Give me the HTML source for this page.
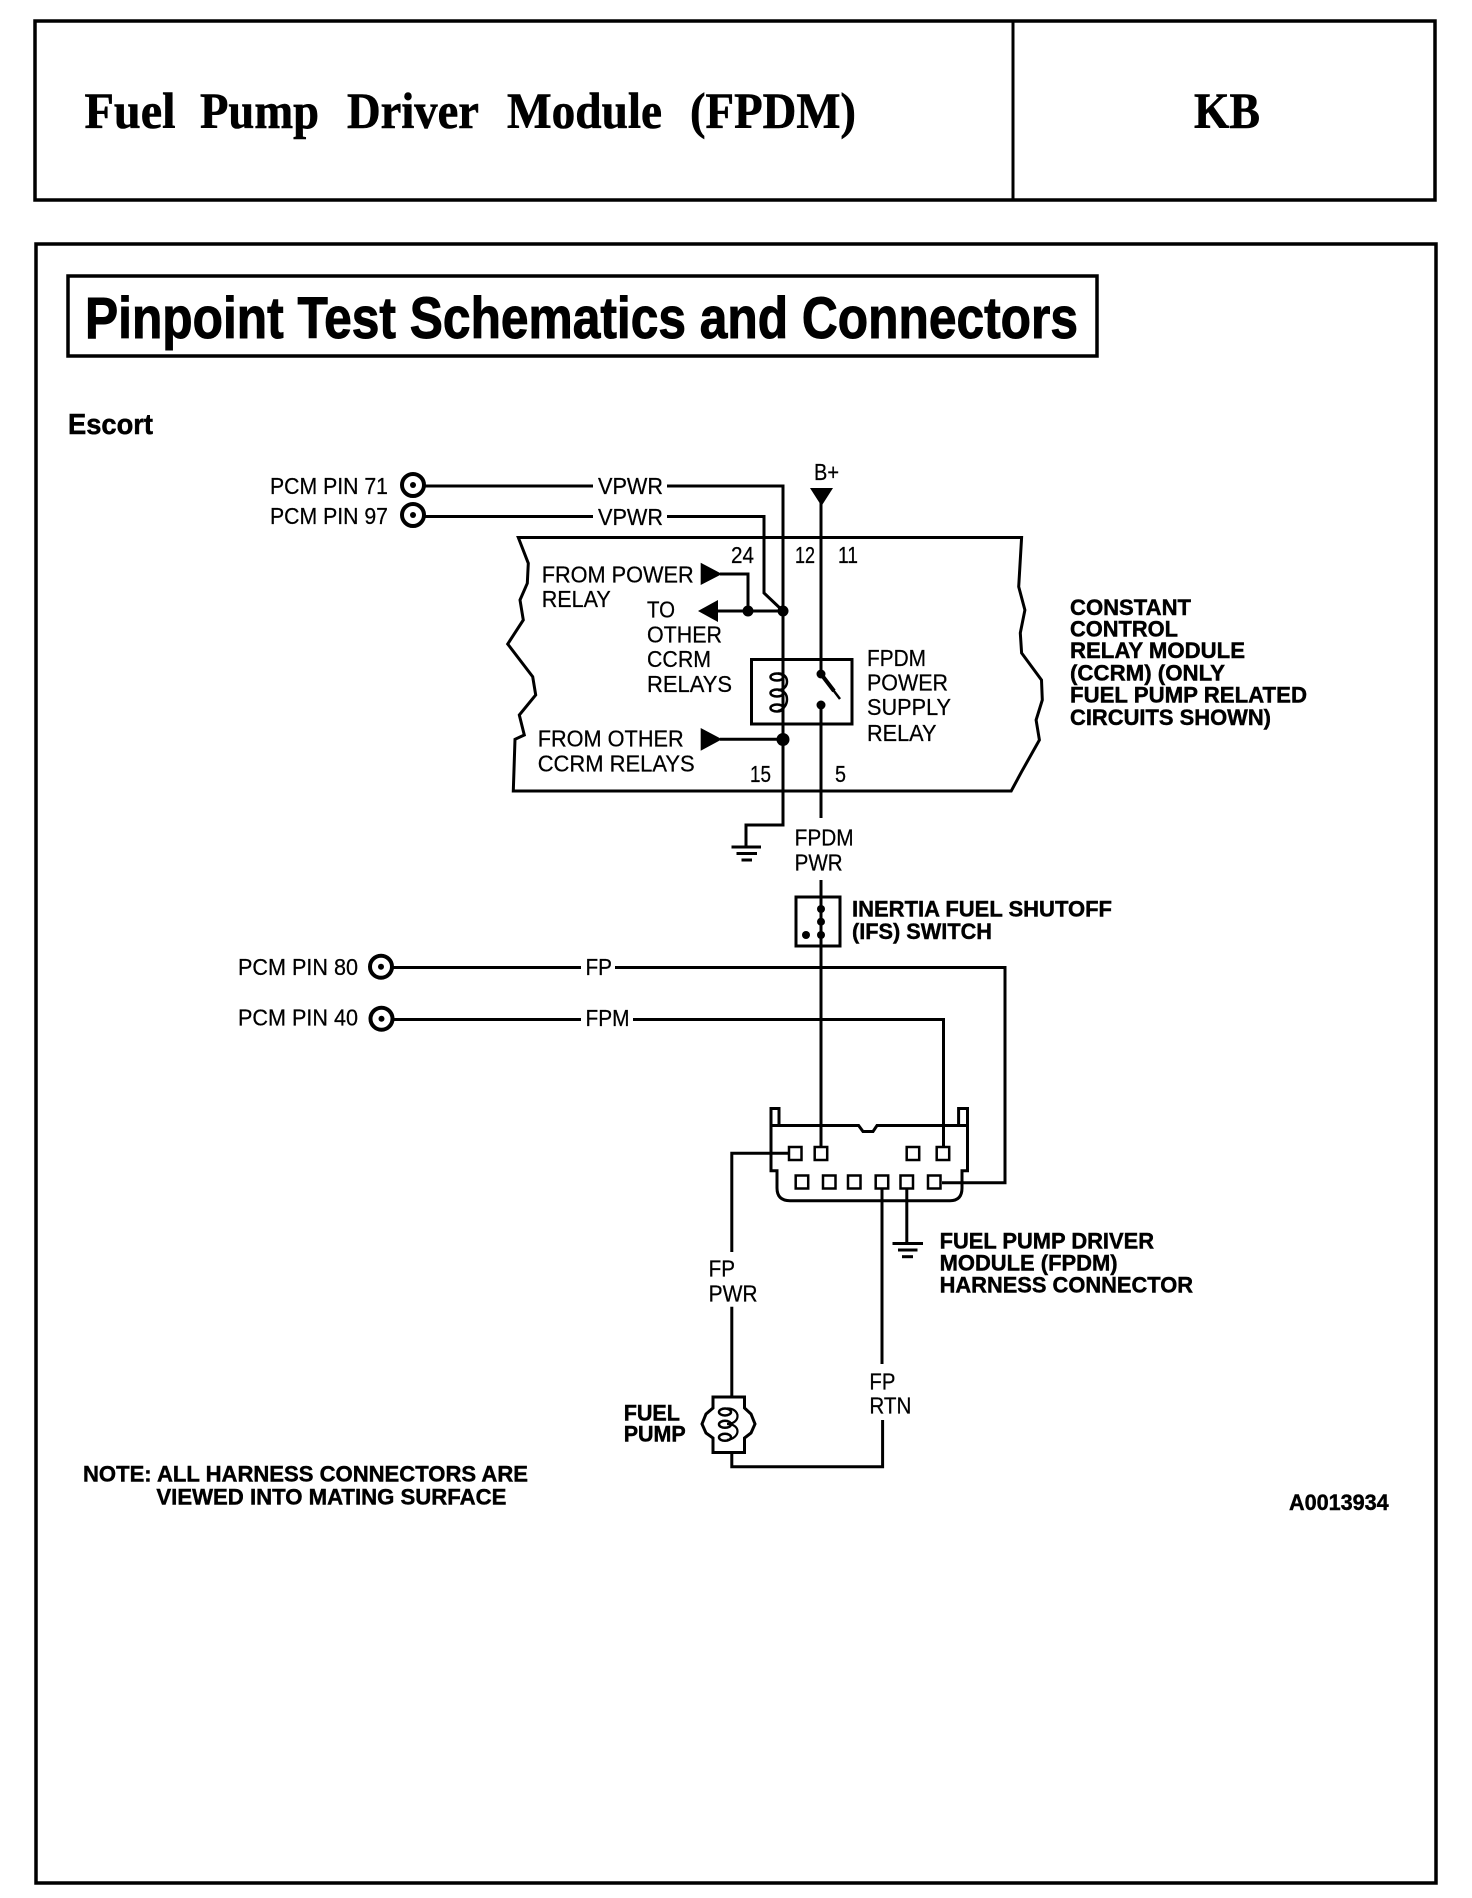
<!DOCTYPE html>
<html lang="en">
<head>
<meta charset="utf-8">
<title>Fuel Pump Driver Module (FPDM)</title>
<style>
html,body{margin:0;padding:0;background:#fff;width:1472px;height:1898px;overflow:hidden}
svg{display:block}
.r{font-family:"Liberation Sans",sans-serif;font-size:23px;fill:#000;stroke:#000;stroke-width:.25}
.b{font-family:"Liberation Sans",sans-serif;font-size:22.5px;font-weight:bold;fill:#000;stroke:#000;stroke-width:.45}
.s{font-family:"Liberation Serif",serif;font-size:51px;font-weight:bold;fill:#000;stroke:#000;stroke-width:.6}
.w{fill:none;stroke:#000;stroke-width:3}
.c{fill:none;stroke:#000;stroke-width:4}
</style>
</head>
<body>
<svg xmlns="http://www.w3.org/2000/svg" width="1472" height="1898" viewBox="0 0 1472 1898">
<rect width="1472" height="1898" fill="#fff"/>

<!-- header -->
<rect x="35" y="21" width="1400" height="179" fill="none" stroke="#000" stroke-width="3.5"/>
<line x1="1013" y1="21" x2="1013" y2="200" stroke="#000" stroke-width="3"/>
<text class="s" x="84.5" y="128" textLength="91" lengthAdjust="spacingAndGlyphs">Fuel</text>
<text class="s" x="200" y="128" textLength="119" lengthAdjust="spacingAndGlyphs">Pump</text>
<text class="s" x="347" y="128" textLength="132" lengthAdjust="spacingAndGlyphs">Driver</text>
<text class="s" x="507" y="128" textLength="155" lengthAdjust="spacingAndGlyphs">Module</text>
<text class="s" x="690" y="128" textLength="166" lengthAdjust="spacingAndGlyphs">(FPDM)</text>
<text class="s" x="1194" y="128" textLength="66" lengthAdjust="spacingAndGlyphs">KB</text>

<!-- main frame -->
<rect x="36" y="244" width="1400" height="1639" fill="none" stroke="#000" stroke-width="3.5"/>
<rect x="68" y="276" width="1029" height="80" fill="none" stroke="#000" stroke-width="3.5"/>
<text x="85" y="338" font-family="Liberation Sans, sans-serif" font-weight="bold" font-size="58" stroke="#000" stroke-width="1" textLength="993" lengthAdjust="spacingAndGlyphs">Pinpoint Test Schematics and Connectors</text>
<text x="68" y="434" font-family="Liberation Sans, sans-serif" font-weight="bold" font-size="29" stroke="#000" stroke-width=".5" textLength="85" lengthAdjust="spacingAndGlyphs">Escort</text>

<!-- CCRM module outline -->
<path class="w" d="M518.3 537.5 L528.3 563.3 L527.3 583.3 L520 600 L523.3 620 L507.7 644 L532.7 676.7 L535.7 695 L519.3 715 L524.3 735 L515 739.3 L513.3 791 L1011.2 791 L1021.6 771.7 L1039.4 740 L1036.1 720 L1042.3 700 L1041.5 680 L1021.6 653 L1020.3 633 L1024.9 610 L1018.7 586.7 L1021.6 537.5 Z"/>

<!-- PCM pins upper -->
<text class="r" x="270" y="494" textLength="118" lengthAdjust="spacingAndGlyphs">PCM PIN 71</text>
<text class="r" x="270" y="524" textLength="118" lengthAdjust="spacingAndGlyphs">PCM PIN 97</text>
<circle cx="413" cy="485" r="11" class="c"/>
<circle cx="413" cy="485" r="3"/>
<circle cx="413" cy="515" r="11" class="c"/>
<circle cx="413" cy="515" r="3"/>
<text class="r" x="598" y="494" textLength="65" lengthAdjust="spacingAndGlyphs">VPWR</text>
<text class="r" x="598" y="525" textLength="65" lengthAdjust="spacingAndGlyphs">VPWR</text>
<path class="w" d="M424 486 H593 M667 486 H783 V825 H746 V847"/>
<path class="w" d="M424 516.5 H593 M667 516.5 H764 V593 L783 611"/>
<!-- grounds -->
<path class="w" d="M731.5 847 H761"/>
<path class="w" d="M736.5 853.5 H757"/>
<path class="w" d="M741.5 860 H752"/>

<!-- B+ -->
<text class="r" x="814" y="480" textLength="25" lengthAdjust="spacingAndGlyphs">B+</text>
<polygon points="810,488 833,488 821.5,506"/>
<path class="w" d="M821 500 V674"/>
<path d="M821 674 L840 699" fill="none" stroke="#000" stroke-width="2.5"/>
<path d="M821 674 L834 691" fill="none" stroke="#000" stroke-width="4"/>
<circle cx="821" cy="674" r="4.5"/>
<circle cx="821" cy="705" r="4.5"/>
<path class="w" d="M821 705 V818"/>

<!-- Pin numbers -->
<text class="r" x="731" y="563" textLength="23" lengthAdjust="spacingAndGlyphs">24</text>
<text class="r" x="795" y="563" textLength="20" lengthAdjust="spacingAndGlyphs">12</text>
<text class="r" x="838" y="563" textLength="20" lengthAdjust="spacingAndGlyphs">11</text>
<text class="r" x="750" y="782" textLength="21" lengthAdjust="spacingAndGlyphs">15</text>
<text class="r" x="835" y="782" textLength="11" lengthAdjust="spacingAndGlyphs">5</text>

<!-- Left labels in module -->
<text class="r" x="541.7" y="582.7" textLength="152" lengthAdjust="spacingAndGlyphs">FROM POWER</text>
<text class="r" x="541.7" y="607" textLength="69" lengthAdjust="spacingAndGlyphs">RELAY</text>
<text class="r" x="647" y="617.7" textLength="28" lengthAdjust="spacingAndGlyphs">TO</text>
<text class="r" x="647" y="642.7" textLength="75" lengthAdjust="spacingAndGlyphs">OTHER</text>
<text class="r" x="647" y="667" textLength="64" lengthAdjust="spacingAndGlyphs">CCRM</text>
<text class="r" x="647" y="692" textLength="85" lengthAdjust="spacingAndGlyphs">RELAYS</text>
<text class="r" x="537.7" y="746.7" textLength="146" lengthAdjust="spacingAndGlyphs">FROM OTHER</text>
<text class="r" x="537.7" y="771.7" textLength="157" lengthAdjust="spacingAndGlyphs">CCRM RELAYS</text>

<!-- arrows & junctions -->
<polygon points="700.7,562.7 700.7,585 722,574"/>
<path class="w" d="M720 574 H748 V611"/>
<polygon points="698,611 718,600 718,622"/>
<path class="w" d="M716 611 H783"/>
<circle cx="748" cy="611" r="5.5"/>
<circle cx="783" cy="611" r="5.5"/>
<polygon points="700.7,728 700.7,750.7 722,739.3"/>
<path class="w" d="M720 739.3 H783"/>
<circle cx="783" cy="739.5" r="6.5"/>

<!-- relay box -->
<rect x="751.5" y="659.5" width="100.5" height="64.5" class="w"/>
<ellipse cx="777" cy="677" rx="6.5" ry="3.5" fill="none" stroke="#000" stroke-width="2.5"/>
<ellipse cx="777" cy="693" rx="6.5" ry="3.5" fill="none" stroke="#000" stroke-width="2.5"/>
<ellipse cx="777" cy="708" rx="6.5" ry="3.5" fill="none" stroke="#000" stroke-width="2.5"/>
<path d="M778 673.5 C790 673 790 690 778 690 C790 690 790 708 778 711" fill="none" stroke="#000" stroke-width="2.5"/>

<text class="r" x="867" y="666" textLength="59" lengthAdjust="spacingAndGlyphs">FPDM</text>
<text class="r" x="867" y="690.7" textLength="81" lengthAdjust="spacingAndGlyphs">POWER</text>
<text class="r" x="867" y="715" textLength="84" lengthAdjust="spacingAndGlyphs">SUPPLY</text>
<text class="r" x="867" y="741" textLength="69.5" lengthAdjust="spacingAndGlyphs">RELAY</text>

<text class="b" x="1070" y="615" textLength="121" lengthAdjust="spacingAndGlyphs">CONSTANT</text>
<text class="b" x="1070" y="636.7" textLength="108" lengthAdjust="spacingAndGlyphs">CONTROL</text>
<text class="b" x="1070" y="658" textLength="175" lengthAdjust="spacingAndGlyphs">RELAY MODULE</text>
<text class="b" x="1070" y="680.7" textLength="155" lengthAdjust="spacingAndGlyphs">(CCRM) (ONLY</text>
<text class="b" x="1070" y="702.3" textLength="237" lengthAdjust="spacingAndGlyphs">FUEL PUMP RELATED</text>
<text class="b" x="1070" y="725" textLength="201" lengthAdjust="spacingAndGlyphs">CIRCUITS SHOWN)</text>

<!-- FPDM PWR and IFS -->
<text class="r" x="794.6" y="845.7" textLength="59" lengthAdjust="spacingAndGlyphs">FPDM</text>
<text class="r" x="794.6" y="870.7" textLength="48" lengthAdjust="spacingAndGlyphs">PWR</text>
<rect x="796" y="897" width="44" height="49" class="w"/>
<path class="w" d="M821 880 V1147"/>
<circle cx="821" cy="909" r="4"/>
<circle cx="821" cy="921.7" r="4"/>
<circle cx="821" cy="935" r="4"/>
<circle cx="806" cy="935" r="4"/>
<text class="b" x="852" y="916.7" textLength="260" lengthAdjust="spacingAndGlyphs">INERTIA FUEL SHUTOFF</text>
<text class="b" x="852" y="939" textLength="140" lengthAdjust="spacingAndGlyphs">(IFS) SWITCH</text>

<!-- PCM pins lower -->
<text class="r" x="238" y="975" textLength="120" lengthAdjust="spacingAndGlyphs">PCM PIN 80</text>
<text class="r" x="238" y="1025.7" textLength="120" lengthAdjust="spacingAndGlyphs">PCM PIN 40</text>
<circle cx="381" cy="966.7" r="11" class="c"/>
<circle cx="381" cy="966.7" r="3"/>
<circle cx="381.5" cy="1018.7" r="11" class="c"/>
<circle cx="381.5" cy="1018.7" r="3"/>
<text class="r" x="585.5" y="975" textLength="26.5" lengthAdjust="spacingAndGlyphs">FP</text>
<text class="r" x="585.5" y="1026" textLength="44" lengthAdjust="spacingAndGlyphs">FPM</text>
<path class="w" d="M392 967.5 H581 M615 967.5 H1005 V1182.7 H942"/>
<path class="w" d="M393 1019.5 H581 M633 1019.5 H943.5 V1147"/>

<!-- Harness connector -->
<path class="w" d="M771 1125.5 V1108.5 H779 V1125.5 M771 1125.5 H858.6 L863 1131.5 H873 L877 1125.5 H967.5 M958.6 1125.5 V1108.5 H967.5 V1125.5 M771 1125.5 V1170.7 H777 V1188 Q777 1200.7 790 1200.7 H950 Q962 1200.7 962 1188 V1170.7 H967.5 V1125.5"/>
<path class="w" d="M789 1153.3 H731.8 V1252"/>
<path class="w" d="M731.8 1306.7 V1396.7 M731.8 1452 V1466.7 H882.6 V1420"/>
<path class="w" d="M882 1189 V1364"/>
<path class="w" d="M906.8 1189 V1243.5"/>
<path class="w" d="M892.5 1243.5 H923"/>
<path class="w" d="M898 1250 H917.5"/>
<path class="w" d="M902 1256.7 H913"/>

<g fill="#fff" stroke="#000" stroke-width="2.5">
<rect x="789" y="1147" width="12.5" height="13"/>
<rect x="814.7" y="1147" width="12.5" height="13"/>
<rect x="906.7" y="1147" width="12.5" height="13"/>
<rect x="936.7" y="1147" width="12.5" height="13"/>
<rect x="795.7" y="1175.5" width="12.5" height="13"/>
<rect x="823" y="1175.5" width="12.5" height="13"/>
<rect x="848" y="1175.5" width="12.5" height="13"/>
<rect x="875.7" y="1175.5" width="12.5" height="13"/>
<rect x="900.5" y="1175.5" width="12.5" height="13"/>
<rect x="928" y="1175.5" width="12.5" height="13"/>
</g>

<text class="b" x="939.6" y="1248.3" textLength="214.4" lengthAdjust="spacingAndGlyphs">FUEL PUMP DRIVER</text>
<text class="b" x="939.6" y="1270.7" textLength="178" lengthAdjust="spacingAndGlyphs">MODULE (FPDM)</text>
<text class="b" x="939.6" y="1292.3" textLength="253.4" lengthAdjust="spacingAndGlyphs">HARNESS CONNECTOR</text>

<text class="r" x="708.6" y="1276.7" textLength="26.4" lengthAdjust="spacingAndGlyphs">FP</text>
<text class="r" x="708.6" y="1301.7" textLength="49" lengthAdjust="spacingAndGlyphs">PWR</text>
<text class="r" x="869.4" y="1389.3" textLength="26" lengthAdjust="spacingAndGlyphs">FP</text>
<text class="r" x="869.4" y="1413.3" textLength="42" lengthAdjust="spacingAndGlyphs">RTN</text>

<!-- Fuel pump -->
<path class="w" d="M713 1397 H744.5 V1408 L751 1414 L755 1424 L751 1433 L744.5 1438 V1452.5 H713 V1438 L706 1433 L702 1424 L706 1414 L713 1408 Z"/>
<ellipse cx="725" cy="1412" rx="6" ry="3.5" fill="none" stroke="#000" stroke-width="2.5"/>
<ellipse cx="725" cy="1424.3" rx="6" ry="3.5" fill="none" stroke="#000" stroke-width="2.5"/>
<ellipse cx="725" cy="1437.3" rx="6" ry="3.5" fill="none" stroke="#000" stroke-width="2.5"/>
<path d="M727 1408.5 C741 1408 741 1424 727 1424 C741 1424 741 1438 727 1440" fill="none" stroke="#000" stroke-width="2.2"/>
<text class="b" x="623.7" y="1420.7" textLength="56.3" lengthAdjust="spacingAndGlyphs">FUEL</text>
<text class="b" x="623.7" y="1441.7" textLength="62" lengthAdjust="spacingAndGlyphs">PUMP</text>

<!-- Notes -->
<text class="b" x="83" y="1481.7" textLength="445" lengthAdjust="spacingAndGlyphs">NOTE: ALL HARNESS CONNECTORS ARE</text>
<text class="b" x="156.4" y="1504.3" textLength="350" lengthAdjust="spacingAndGlyphs">VIEWED INTO MATING SURFACE</text>
<text class="b" x="1289" y="1510" textLength="99.7" lengthAdjust="spacingAndGlyphs">A0013934</text>
</svg>
</body>
</html>
